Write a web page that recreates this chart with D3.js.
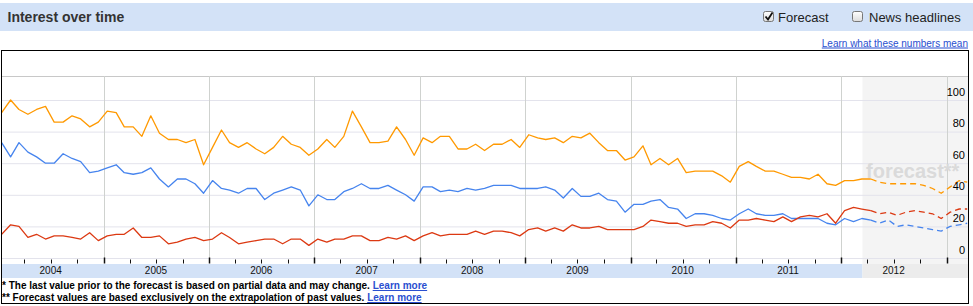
<!DOCTYPE html>
<html><head><meta charset="utf-8">
<script src="https://cdn.jsdelivr.net/npm/d3@7"></script>
<style>
body{margin:0;background:#fff;}
svg{display:block;font-family:Arial,"Liberation Sans",Helvetica,sans-serif;}
</style>
</head><body>
<svg id="c" width="973" height="306"></svg>
<script>
// ---- data (monthly, Jan 2004 onward) ----
const orangeValues = [92,100,94,91,94,96,86,86,90,88,83,86,93,92,83,83,77,90,79,75,75,73,75,59,70,81,73,70,73,69,66,70,77,72,70,65,69,75,70,77,93,83,73,73,74,83,75,65,76,73,77,77,69,69,72,68,72,72,75,70,78,76,75,76,73,77,76,79,73,68,68,62,64,71,59,63,59,63,54,55,55,55,52,48,58,61,58,55,55,53,51,51,50,53,47,46,49,49,50,50];
const blueValues = [73,64,73,67,64,60,60,66,63,61,54,55,57,59,54,53,54,57,50,45,50,50,47,41,49,44,43,41,44,44,37,41,43,45,43,33,40,37,37,42,44,47,44,44,46,43,40,36,45,45,42,43,42,44,43,44,46,46,46,44,44,44,45,43,38,44,39,39,41,37,36,29,34,34,36,37,32,31,25,28,28,27,25,24,28,31,28,27,27,28,25,25,25,25,22,21,25,23,25,24];
const redValues = [15,21,20,13,15,12,14,14,13,12,16,11,14,15,15,19,13,13,14,9,10,12,13,11,12,16,13,9,10,11,12,12,9,12,12,8,12,10,12,12,14,14,11,11,13,12,14,11,14,16,14,15,15,15,17,15,17,17,16,14,18,19,17,19,17,21,19,19,20,18,18,18,18,20,24,23,22,22,20,21,21,23,22,19,24,24,25,24,23,26,23,26,27,26,28,22,30,32,31,30];
const orangeForecast = [48,47,47,47,47,46,44,41,45,49,48];
const blueForecast = [22,24,20,21,20,19,18,17,20,21,22];
const redForecast = [28,29,27,29,30,29,28,25,29,31,31];
const seriesColors = ["#ff9900","#4684ee","#dc3912"];
const yTicks = [0,20,40,60,80,100];
const yearLabels = ["2004","2005","2006","2007","2008","2009","2010","2011","2012"];
const firstMonth = new Date(2004,0,13);
const forecastShadeStart = new Date(2012,2,15);

const svg = d3.select("#c");
const W = 973;
const plotLeft = 2, plotRight = 968, plotTop = 76, plotBottom = 258;

const x = d3.scaleTime().domain([new Date(2004,0,1), new Date(2013,0,1)]).range([-1.8, 946.7]);
const y = d3.scaleLinear().domain([0,100]).range([plotBottom, 100]);
const monthDate = i => d3.timeMonth.offset(firstMonth, i);

// header band
svg.append("rect").attr("x",0).attr("y",3).attr("width",W).attr("height",28).attr("fill","#d3e2f7");
svg.append("text").attr("x",7.5).attr("y",21.5).attr("font-size",14).attr("font-weight","bold").attr("fill","#333").text("Interest over time");

// checkboxes
const defs = svg.append("defs");
const g1 = defs.append("linearGradient").attr("id","cb").attr("x1",0).attr("y1",0).attr("x2",0).attr("y2",1);
g1.append("stop").attr("offset","0").attr("stop-color","#ffffff");
g1.append("stop").attr("offset","1").attr("stop-color","#dcdcdc");
function checkbox(cx, checked){
  svg.append("rect").attr("x",cx+0.5).attr("y",11.5).attr("width",10).attr("height",10).attr("rx",2)
     .attr("fill","url(#cb)").attr("stroke","#777");
  if(checked){
    svg.append("path").attr("d",`M${cx+2.5},${16.5} L${cx+5},${19.5} L${cx+9.5},${12.5}`)
      .attr("fill","none").attr("stroke","#111").attr("stroke-width",1.8);
  }
}
checkbox(763,true);
svg.append("text").attr("x",778).attr("y",21.5).attr("font-size",13).attr("fill","#222").text("Forecast");
checkbox(852,false);
svg.append("text").attr("x",869).attr("y",21.5).attr("font-size",13).attr("fill","#222").text("News headlines");

// link
svg.append("text").attr("x",968).attr("y",46.5).attr("text-anchor","end").attr("font-size",10)
  .attr("fill","#2a4fd0").attr("text-decoration","underline").text("Learn what these numbers mean");

// forecast shading
const shadeX = x(forecastShadeStart);
svg.append("rect").attr("x",shadeX).attr("y",plotTop).attr("width",plotRight-shadeX).attr("height",264-plotTop).attr("fill","#f4f4f4");

// horizontal grid
svg.selectAll(".hg").data(yTicks).join("line")
  .attr("x1",plotLeft).attr("x2",plotRight).attr("y1",d=>y(d)+0.5).attr("y2",d=>y(d)+0.5)
  .attr("stroke","#e3e3ec");
svg.append("line").attr("x1",plotLeft).attr("x2",plotRight).attr("y1",plotTop+0.5).attr("y2",plotTop+0.5).attr("stroke","#c8c8c8");

// vertical year grid
const yearStarts = d3.timeYear.range(new Date(2005,0,1), new Date(2013,0,2));
svg.selectAll(".vg").data(yearStarts).join("line")
  .attr("x1",d=>Math.round(x(d))+0.5).attr("x2",d=>Math.round(x(d))+0.5)
  .attr("y1",plotTop).attr("y2",plotBottom).attr("stroke","#cfd2cf");

// watermark
svg.append("text").attr("x",866).attr("y",178).attr("font-size",20).attr("font-weight","bold")
  .attr("fill","#dadada").text("forecast**");

// axis band
svg.append("rect").attr("x",plotLeft).attr("y",264).attr("width",shadeX-plotLeft).attr("height",14).attr("fill","#d3e2f7");
svg.append("rect").attr("x",shadeX).attr("y",264).attr("width",plotRight-shadeX).attr("height",14).attr("fill","#ececec");

// ticks
const quarters = d3.timeMonth.every(3).range(new Date(2004,3,1), new Date(2013,0,2));
svg.selectAll(".tk").data(quarters).join("line")
  .attr("x1",d=>Math.round(x(d))+0.5).attr("x2",d=>Math.round(x(d))+0.5)
  .attr("y1",d=>d.getMonth()===0?257.5:259.5).attr("y2",263.5)
  .attr("stroke","#111").attr("stroke-width",d=>d.getMonth()===0?1.5:1);

// year labels
svg.selectAll(".yl").data(yearLabels).join("text")
  .attr("x",d=>x(new Date(+d,6,1))).attr("y",274).attr("text-anchor","middle")
  .attr("font-size",10).attr("fill","#111").text(d=>d);

// lines
defs.append("clipPath").attr("id","clip").append("rect").attr("x",plotLeft).attr("y",plotTop).attr("width",plotRight-plotLeft).attr("height",plotBottom-plotTop+4);
const lineGen = d3.line().x(d=>x(d.date)).y(d=>y(d.v));
const lg = svg.append("g").attr("clip-path","url(#clip)");
const realSets = [orangeValues, blueValues, redValues];
const fcSets = [orangeForecast, blueForecast, redForecast];
realSets.forEach((vals,k)=>{
  const pts = vals.map((v,i)=>({date:monthDate(i), v}));
  const n = vals.length;
  const fpts = [{date:monthDate(n-1), v:vals[n-1]}].concat(fcSets[k].map((v,j)=>({date:monthDate(n+j), v})));
  lg.append("path").attr("d",lineGen(fpts)).attr("fill","none").attr("stroke",seriesColors[k])
    .attr("stroke-width",1.3).attr("stroke-dasharray","6,4");
  lg.append("path").attr("d",lineGen(pts)).attr("fill","none").attr("stroke",seriesColors[k])
    .attr("stroke-width",1.3).attr("stroke-linejoin","round");
});

// y labels
svg.selectAll(".ylab").data(yTicks).join("text")
  .attr("x",965).attr("y",d=>y(d)-4.5).attr("text-anchor","end").attr("font-size",11).attr("fill","#000").text(d=>d);

// frame
svg.append("rect").attr("x",1.5).attr("y",50.5).attr("width",967).attr("height",253).attr("fill","none").attr("stroke","#000");

// footer
const f1 = svg.append("text").attr("x",2).attr("y",289).attr("font-size",10).attr("font-weight","bold").attr("fill","#000");
f1.append("tspan").text("* The last value prior to the forecast is based on partial data and may change. ");
f1.append("tspan").attr("fill","#2a4fd0").attr("text-decoration","underline").text("Learn more");
const f2 = svg.append("text").attr("x",2).attr("y",301).attr("font-size",10).attr("font-weight","bold").attr("fill","#000");
f2.append("tspan").text("** Forecast values are based exclusively on the extrapolation of past values. ");
f2.append("tspan").attr("fill","#2a4fd0").attr("text-decoration","underline").text("Learn more");
</script>
</body></html>
